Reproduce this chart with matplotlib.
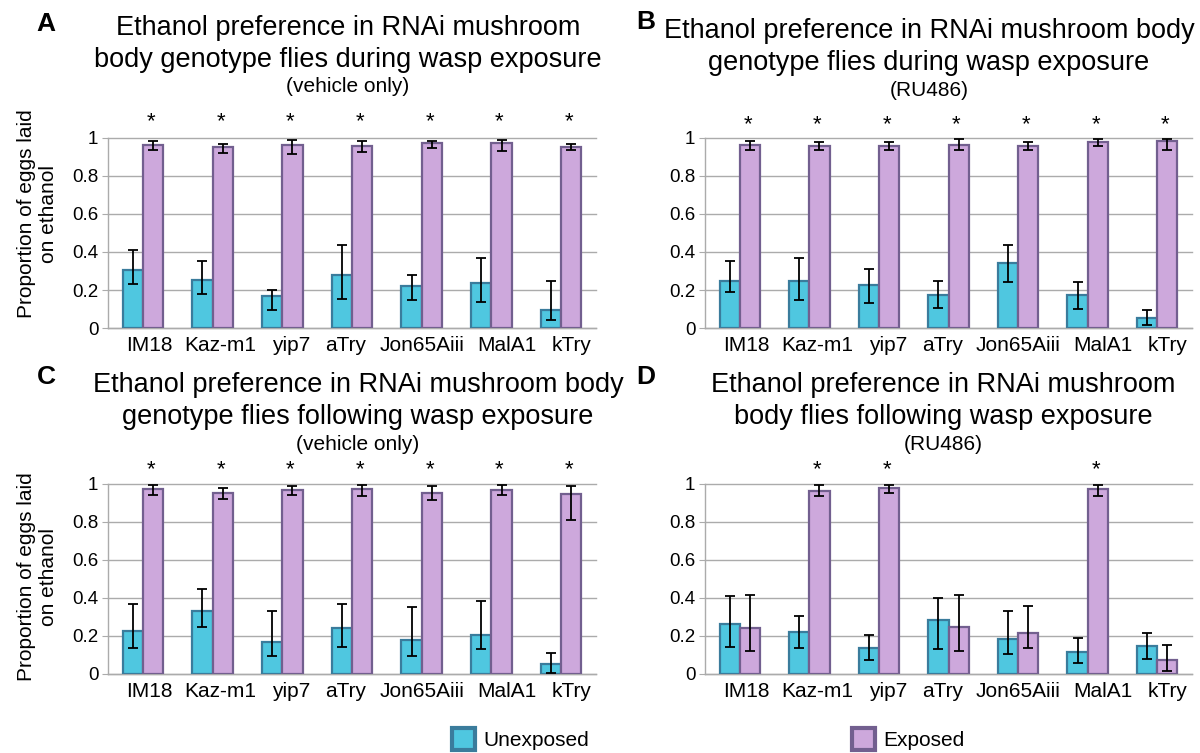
import matplotlib
matplotlib.use("Agg")
import matplotlib.pyplot as plt
from matplotlib.transforms import ScaledTranslation
import numpy as np

plt.rcParams['font.family'] = ['Liberation Sans', 'DejaVu Sans']

categories = ["IM18", "Kaz-m1", "yip7", "aTry", "Jon65Aiii", "MalA1", "kTry"]

# Panel A: during wasp exposure (vehicle only)
A_unexp = [0.304, 0.254, 0.167, 0.277, 0.223, 0.235, 0.095]
A_unexp_hi = [0.409, 0.351, 0.198, 0.435, 0.281, 0.367, 0.246]
A_unexp_lo = [0.233, 0.181, 0.093, 0.154, 0.149, 0.135, 0.040]
A_exp = [0.965, 0.951, 0.965, 0.958, 0.972, 0.972, 0.951]
A_exp_hi = [0.982, 0.970, 0.991, 0.982, 0.984, 0.991, 0.968]
A_exp_lo = [0.935, 0.923, 0.914, 0.928, 0.949, 0.932, 0.937]
A_sig = [1, 1, 1, 1, 1, 1, 1]

# Panel B: during wasp exposure (RU486)
B_unexp = [0.249, 0.249, 0.228, 0.172, 0.340, 0.172, 0.053]
B_unexp_hi = [0.353, 0.368, 0.312, 0.247, 0.437, 0.240, 0.093]
B_unexp_lo = [0.191, 0.146, 0.132, 0.104, 0.240, 0.100, 0.018]
B_exp = [0.965, 0.960, 0.958, 0.965, 0.958, 0.979, 0.986]
B_exp_hi = [0.984, 0.977, 0.977, 0.993, 0.977, 0.993, 0.993]
B_exp_lo = [0.939, 0.935, 0.935, 0.937, 0.935, 0.956, 0.935]
B_sig = [1, 1, 1, 1, 1, 1, 1]

# Panel C: following wasp exposure (vehicle only)
C_unexp = [0.227, 0.333, 0.169, 0.243, 0.178, 0.206, 0.051]
C_unexp_hi = [0.366, 0.445, 0.333, 0.366, 0.352, 0.382, 0.113]
C_unexp_lo = [0.137, 0.248, 0.093, 0.143, 0.095, 0.134, 0.007]
C_exp = [0.974, 0.952, 0.967, 0.974, 0.952, 0.967, 0.945]
C_exp_hi = [0.995, 0.979, 0.988, 0.995, 0.988, 0.993, 0.988]
C_exp_lo = [0.940, 0.921, 0.940, 0.938, 0.915, 0.940, 0.810]
C_sig = [1, 1, 1, 1, 1, 1, 1]

# Panel D: following wasp exposure (RU486)
D_unexp = [0.262, 0.220, 0.137, 0.283, 0.185, 0.114, 0.150]
D_unexp_hi = [0.408, 0.303, 0.204, 0.401, 0.333, 0.192, 0.218]
D_unexp_lo = [0.144, 0.136, 0.074, 0.134, 0.107, 0.056, 0.079]
D_exp = [0.241, 0.965, 0.981, 0.248, 0.218, 0.974, 0.072]
D_exp_hi = [0.415, 0.993, 0.993, 0.415, 0.359, 0.993, 0.155]
D_exp_lo = [0.120, 0.937, 0.954, 0.123, 0.136, 0.937, 0.016]
D_sig = [0, 1, 1, 0, 0, 1, 0]

yticks = [0, 0.2, 0.4, 0.6, 0.8, 1]
ytick_labels = ["0", "0.2", "0.4", "0.6", "0.8", "1"]

# small horizontal nudges (pixels) of the category labels, as in the original
label_nudge_px = [7, 8, 9, -6, 0, 15, 10]

C_FILL = "#4fc7e0"
C_EDGE = "#3a7c9c"
E_FILL = "#cda8dc"
E_EDGE = "#725f8f"
GRID = "#ababab"

W, H = 1200, 753
fig = plt.figure(figsize=(W / 100, H / 100), dpi=100)


def px_axes(l, r, b, t):
    return fig.add_axes([l / W, 1 - b / H, (r - l) / W, (b - t) / H])


panels = [
    dict(rect=(108, 596, 328, 138), letter="A", lpos=(46, 24),
         lines=["Ethanol preference in RNAi mushroom",
                "body genotype flies during wasp exposure"],
         sub="(vehicle only)", tx=348, ty=(28, 60, 87), ylabel=0.6,
         u=A_unexp, uh=A_unexp_hi, ul=A_unexp_lo, e=A_exp, eh=A_exp_hi, el=A_exp_lo,
         sig=A_sig, stary=1.085),
    dict(rect=(705, 1192, 328, 138), letter="B", lpos=(646, 22),
         lines=["Ethanol preference in RNAi mushroom body",
                "genotype flies during wasp exposure"],
         sub="(RU486)", tx=929, ty=(31, 63, 90), ylabel=None,
         u=B_unexp, uh=B_unexp_hi, ul=B_unexp_lo, e=B_exp, eh=B_exp_hi, el=B_exp_lo,
         sig=B_sig, stary=1.07),
    dict(rect=(108, 596, 674, 484), letter="C", lpos=(46, 377),
         lines=["Ethanol preference in RNAi mushroom body",
                "genotype flies following wasp exposure"],
         sub="(vehicle only)", tx=358, ty=(385, 417, 445), ylabel=0.51,
         u=C_unexp, uh=C_unexp_hi, ul=C_unexp_lo, e=C_exp, eh=C_exp_hi, el=C_exp_lo,
         sig=C_sig, stary=1.075),
    dict(rect=(705, 1192, 674, 484), letter="D", lpos=(646, 377),
         lines=["Ethanol preference in RNAi mushroom",
                "body flies following wasp exposure"],
         sub="(RU486)", tx=943, ty=(385, 417, 445), ylabel=None,
         u=D_unexp, uh=D_unexp_hi, ul=D_unexp_lo, e=D_exp, eh=D_exp_hi, el=D_exp_lo,
         sig=D_sig, stary=1.075),
]

x = np.arange(len(categories))
bw = 0.29
handles = None
for p in panels:
    ax = px_axes(*p["rect"])
    u = np.array(p["u"]); e = np.array(p["e"])
    uerr = [u - np.array(p["ul"]), np.array(p["uh"]) - u]
    eerr = [e - np.array(p["el"]), np.array(p["eh"]) - e]
    b1 = ax.bar(x - bw / 2, u, bw, color=C_FILL, edgecolor=C_EDGE, linewidth=1.6,
                zorder=3, label="Unexposed")
    b2 = ax.bar(x + bw / 2, e, bw, color=E_FILL, edgecolor=E_EDGE, linewidth=1.6,
                zorder=3, label="Exposed")
    ax.errorbar(x - bw / 2, u, yerr=uerr, fmt="none", ecolor="black", elinewidth=1.3,
                capsize=3.5, capthick=1.3, zorder=4)
    ax.errorbar(x + bw / 2, e, yerr=eerr, fmt="none", ecolor="black", elinewidth=1.3,
                capsize=3.5, capthick=1.3, zorder=4)
    handles = (b1, b2)
    for xi, s in zip(x, p["sig"]):
        if s:
            ax.text(xi + bw / 2 - 0.03, p["stary"], "*", ha="center", va="center",
                    fontsize=16, clip_on=False)
    ax.set_xlim(-0.5, len(categories) - 0.5)
    ax.set_ylim(0, 1.0)
    ax.set_yticks(yticks)
    ax.set_yticklabels(ytick_labels, fontsize=13.5)
    ax.set_xticks(x)
    ax.set_xticklabels([])
    # category labels (real text), nudged slightly as in the original
    for xi, cat, dx in zip(x, categories, label_nudge_px):
        ax.text(xi, 0, cat, fontsize=15, ha="center", va="top",
                transform=ax.get_xaxis_transform() +
                ScaledTranslation(dx / 100, -8 / 100, fig.dpi_scale_trans))
    ax.tick_params(axis="x", length=0, pad=5)
    ax.tick_params(axis="y", length=4, color=GRID, pad=3)
    ax.grid(axis="y", color=GRID, linewidth=1.0, zorder=0, clip_on=False)
    ax.set_axisbelow(True)
    for s in ["top", "right"]:
        ax.spines[s].set_visible(False)
    for s in ["left", "bottom"]:
        ax.spines[s].set_color(GRID)
        ax.spines[s].set_linewidth(1.0)
    if p["ylabel"] is not None:
        ax.set_ylabel("Proportion of eggs laid\non ethanol", fontsize=15,
                      linespacing=1.2)
        l = p["rect"][0]
        ax.yaxis.set_label_coords((58 - l) / (p["rect"][1] - l), p["ylabel"])
    # titles
    fig.text(p["tx"] / W, 1 - p["ty"][0] / H, p["lines"][0], ha="center", va="center",
             fontsize=19.5)
    fig.text(p["tx"] / W, 1 - p["ty"][1] / H, p["lines"][1], ha="center", va="center",
             fontsize=19.5)
    fig.text(p["tx"] / W, 1 - p["ty"][2] / H, p["sub"], ha="center", va="center",
             fontsize=15)
    fig.text(p["lpos"][0] / W, 1 - p["lpos"][1] / H, p["letter"], ha="center",
             va="center", fontsize=19, fontweight="bold")

leg1 = fig.legend(handles=[handles[0]], labels=["Unexposed"], loc="center left",
                  bbox_to_anchor=(452 / W, 1 - 739 / H), frameon=False, fontsize=15,
                  handlelength=1.1, handleheight=1.3, handletextpad=0.4,
                  borderaxespad=0, borderpad=0)
leg2 = fig.legend(handles=[handles[1]], labels=["Exposed"], loc="center left",
                  bbox_to_anchor=(852 / W, 1 - 739 / H), frameon=False, fontsize=15,
                  handlelength=1.1, handleheight=1.3, handletextpad=0.4,
                  borderaxespad=0, borderpad=0)
for lg in (leg1, leg2):
    for h in lg.legend_handles:
        h.set_linewidth(3)

fig.savefig("out.png", dpi=100)
